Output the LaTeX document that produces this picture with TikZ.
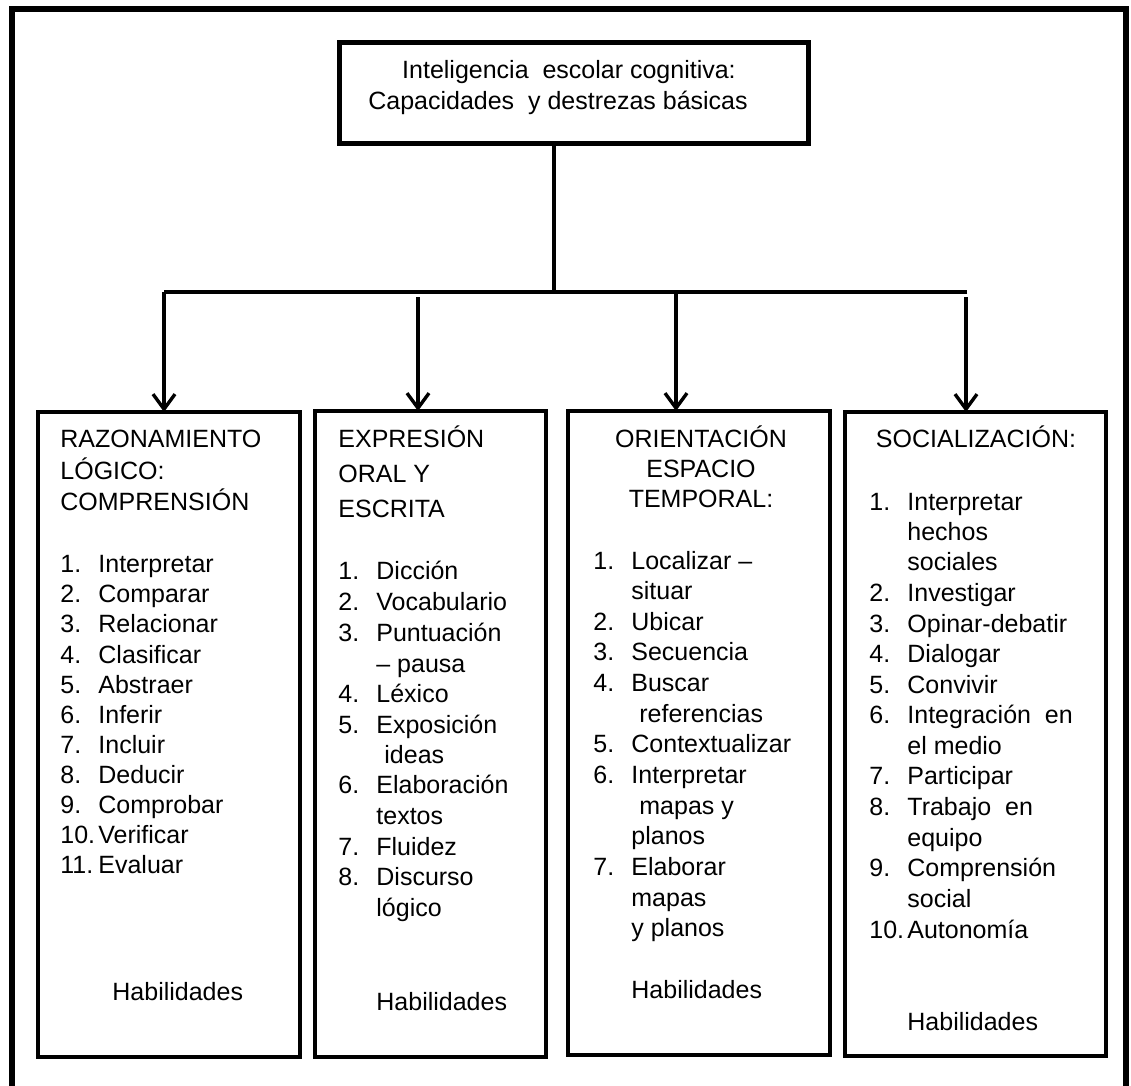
\documentclass[tikz,border=0pt]{standalone}
\usepackage{fontspec}
\setmainfont{Liberation Sans}
\usetikzlibrary{arrows.meta}

% numbered entry: fixed-width number column, then the text
\newcommand\numitem[2]{\makebox[19pt][l]{#1}#2}

\tikzset{
  frameline/.style={line width=3pt, line join=miter},
  topbox/.style={draw, line width=2.5pt, rectangle, inner sep=0pt, outer sep=0pt, anchor=north west},
  listbox/.style={draw, line width=2.25pt, rectangle, inner sep=0pt, outer sep=0pt, anchor=north west},
  txt/.style={anchor=base west, inner sep=0pt, font=\fontsize{12.5pt}{15pt}\selectfont},
  ctxt/.style={anchor=base, inner sep=0pt, font=\fontsize{12.5pt}{15pt}\selectfont},
  conn/.style={line width=1.7pt},
  arr/.style={line width=1.7pt, -{Straight Barb[length=7.5pt, width=11pt, line width=1.7pt]}}
}

\begin{document}
\begin{tikzpicture}[x=0.5pt, y=-0.5pt]
  \useasboundingbox (0,0) rectangle (1131,1086);

  % outer frame, open at the bottom edge
  \draw[frameline] (12,1086) -- (12,9) -- (1126,9) -- (1126,1086);

  % title box
  \node[topbox, minimum width=234.5pt, minimum height=50.5pt] (top) at (339,43) {};
  \node[ctxt] (top1) at (569,79) {Inteligencia\ \ escolar cognitiva:};
  \node[ctxt] (top2) at (558,110) {Capacidades\ \ y destrezas básicas};

  % four category boxes
  \node[listbox, minimum width=131pt,   minimum height=322.5pt] (b1) at (38,412) {};
  \node[listbox, minimum width=115.5pt, minimum height=323pt]   (b2) at (315,411) {};
  \node[listbox, minimum width=131pt,   minimum height=322pt]   (b3) at (568,411) {};
  \node[listbox, minimum width=130.5pt, minimum height=322pt]   (b4) at (845,412) {};

  % connectors
  \coordinate (j) at (554,292);
  \coordinate (barL) at (164,292);
  \coordinate (barR) at (967,292);
  \coordinate (a2) at (418,297);
  \coordinate (a3) at (676,292);
  \coordinate (a4) at (966,297);
  \draw[conn] (top.south -| j) -- (j);
  \draw[line width=2pt] (barR) -- (barL);
  \draw[arr] (barL) -- (b1.north -| barL);
  \draw[arr] (a2) -- (b2.north -| a2);
  \draw[arr] (a3) -- (b3.north -| a3);
  \draw[arr] (a4) -- (b4.north -| a4);

  % box 1: logical reasoning
  \node[txt] (b1h1) at (60,447) {RAZONAMIENTO};
  \node[txt] (b1h2) at (60,479) {LÓGICO:};
  \node[txt] (b1h3) at (60,510) {COMPRENSIÓN};
  \foreach \y/\n/\t [count=\k] in {572/1./Interpretar, 602/2./Comparar, 632/3./Relacionar,
      663/4./Clasificar, 693/5./Abstraer, 723/6./Inferir, 753/7./Incluir, 783/8./Deducir,
      813/9./Comprobar, 843/10./Verificar, 873/11./Evaluar}
    \node[txt] (b1i\k) at (60,\y) {\numitem{\n}{\t}};
  \node[txt] (b1f) at (112,1000) {Habilidades};

  % box 2: oral and written expression
  \node[txt] (b2h1) at (338,447) {EXPRESIÓN};
  \node[txt] (b2h2) at (338,482) {ORAL Y};
  \node[txt] (b2h3) at (338,517) {ESCRITA};
  \foreach \y/\n/\t [count=\k] in {579/1./Dicción, 610/2./Vocabulario, 641/3./Puntuación,
      702/4./Léxico, 733/5./Exposición, 793/6./Elaboración, 855/7./Fluidez, 885/8./Discurso}
    \node[txt] (b2i\k) at (338,\y) {\numitem{\n}{\t}};
  \node[txt] (b2c1) at (376,672) {– pausa};
  \node[txt] (b2c2) at (384,763) {ideas};
  \node[txt] (b2c3) at (376,824) {textos};
  \node[txt] (b2c4) at (376,916) {lógico};
  \node[txt] (b2f) at (376,1010) {Habilidades};

  % box 3: spatial and temporal orientation
  \node[ctxt] (b3h1) at (701,447) {ORIENTACIÓN};
  \node[ctxt] (b3h2) at (701,477) {ESPACIO};
  \node[ctxt] (b3h3) at (701,507) {TEMPORAL:};
  \foreach \y/\n/\t [count=\k] in {569/1./Localizar –, 630/2./Ubicar, 660/3./Secuencia,
      691/4./Buscar, 752/5./Contextualizar, 783/6./Interpretar, 875/7./Elaborar}
    \node[txt] (b3i\k) at (593,\y) {\numitem{\n}{\t}};
  \node[txt] (b3c1) at (631,599) {situar};
  \node[txt] (b3c2) at (639,722) {referencias};
  \node[txt] (b3c3) at (639,814) {mapas y};
  \node[txt] (b3c4) at (631,844) {planos};
  \node[txt] (b3c5) at (631,906) {mapas};
  \node[txt] (b3c6) at (631,936) {y planos};
  \node[txt] (b3f) at (631,998) {Habilidades};

  % box 4: socialisation
  \node[ctxt] (b4h1) at (976,447) {SOCIALIZACIÓN:};
  \foreach \y/\n/\t [count=\k] in {510/1./Interpretar, 601/2./Investigar, 632/3./Opinar-debatir,
      662/4./Dialogar, 693/5./Convivir, 723/6./Integración\ \ en, 784/7./Participar,
      815/8./Trabajo\ \ en, 876/9./Comprensión, 938/10./Autonomía}
    \node[txt] (b4i\k) at (869,\y) {\numitem{\n}{\t}};
  \node[txt] (b4c1) at (907,540) {hechos};
  \node[txt] (b4c2) at (907,570) {sociales};
  \node[txt] (b4c3) at (907,754) {el medio};
  \node[txt] (b4c4) at (907,846) {equipo};
  \node[txt] (b4c5) at (907,907) {social};
  \node[txt] (b4f) at (907,1030) {Habilidades};
\end{tikzpicture}
\end{document}
